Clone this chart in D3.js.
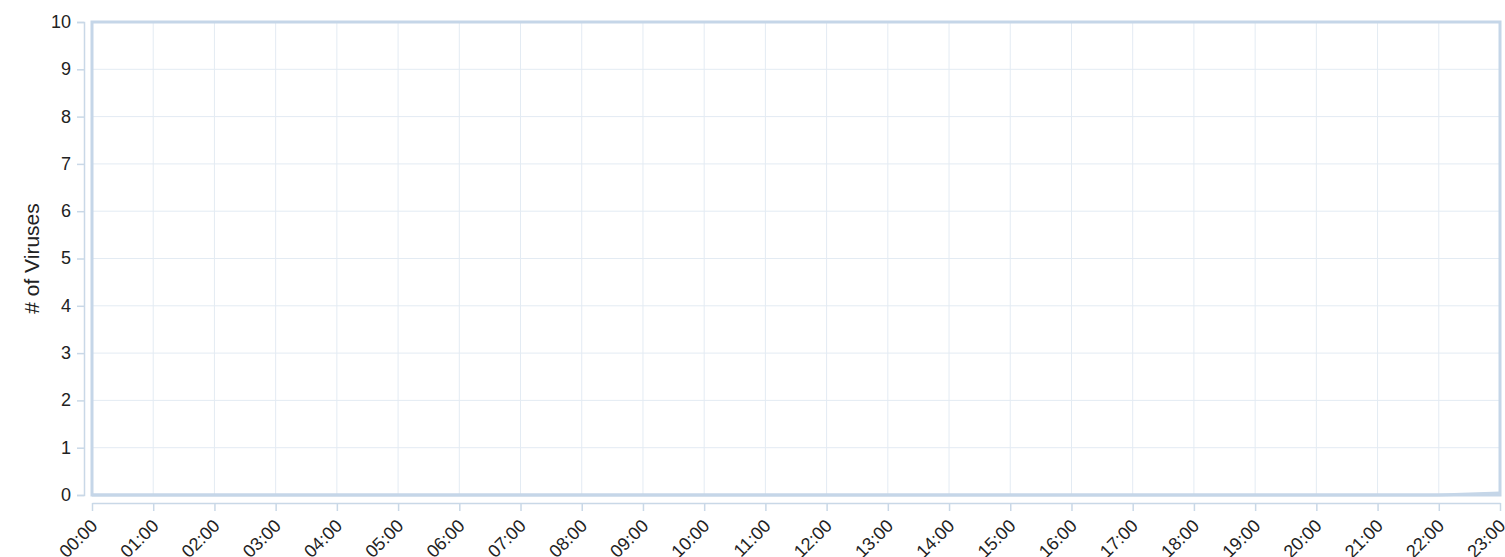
<!DOCTYPE html>
<html>
<head>
<meta charset="utf-8">
<script src="https://cdn.jsdelivr.net/npm/d3@7"></script>
<style>
  body { margin: 0; background: #fff; }
  text { font-family: "Liberation Sans", Arial, sans-serif; }
</style>
</head>
<body>
<script>
var hours = ['00:00','01:00','02:00','03:00','04:00','05:00','06:00','07:00','08:00','09:00','10:00','11:00',
             '12:00','13:00','14:00','15:00','16:00','17:00','18:00','19:00','20:00','21:00','22:00','23:00'];
var viruses = [0,0,0,0,0,0,0,0,0,0,0,0,0,0,0,0,0,0,0,0,0,0,0,0.04];
var yTicks = [0,1,2,3,4,5,6,7,8,9,10];

var W = 1505, H = 557;
var plotL = 92, plotR = 1500, plotT = 22, plotB = 495;

var svg = d3.select('body').append('svg').attr('width', W).attr('height', H);

var x = d3.scalePoint().domain(hours).range([plotL, plotR]);
var y = d3.scaleLinear().domain([0, 10]).range([plotB, plotT]);

// grid
svg.append('g').selectAll('line')
  .data(yTicks).enter().append('line')
    .attr('x1', plotL).attr('x2', plotR)
    .attr('y1', d => y(d)).attr('y2', d => y(d))
    .attr('stroke', '#e3ebf3').attr('stroke-width', 1);
svg.append('g').selectAll('line')
  .data(hours).enter().append('line')
    .attr('y1', plotT).attr('y2', plotB)
    .attr('x1', d => x(d)).attr('x2', d => x(d))
    .attr('stroke', '#e3ebf3').attr('stroke-width', 1);

// y axis (offset to the left)
var yAxis = svg.append('g').attr('transform', 'translate(84,0)')
  .call(d3.axisLeft(y).tickValues(yTicks).tickSize(7).tickPadding(6));
yAxis.attr('font-size', 18).attr('font-family', null);
yAxis.select('.domain').attr('stroke', '#c9d8e7').attr('stroke-width', 1.5);
yAxis.selectAll('.tick line').attr('stroke', '#c9d8e7').attr('stroke-width', 1.5);
yAxis.selectAll('.tick text').attr('fill', '#222').attr('dy', '0.3em');

// x axis (offset below)
var xAxis = svg.append('g').attr('transform', 'translate(0,503)')
  .call(d3.axisBottom(x).tickSize(8).tickSizeOuter(0));
xAxis.attr('font-size', 18).attr('font-family', null);
xAxis.select('.domain').attr('stroke', '#c9d8e7').attr('stroke-width', 1.5);
xAxis.selectAll('.tick text')
  .attr('fill', '#222')
  .attr('text-anchor', 'end')
  .attr('dy', null).attr('y', 0)
  .attr('transform', 'translate(6,24) rotate(-45)');
xAxis.selectAll('.tick line').attr('stroke', '#c9d8e7').attr('stroke-width', 1.5);

// plot frame
svg.append('rect')
  .attr('x', plotL).attr('y', plotT)
  .attr('width', plotR - plotL).attr('height', plotB - plotT)
  .attr('fill', 'none').attr('stroke', '#c5d6e8').attr('stroke-width', 3);

// series
var line = d3.line().x((d, i) => x(hours[i])).y(d => y(d));
svg.append('path')
  .attr('d', line(viruses))
  .attr('fill', 'none').attr('stroke', '#c5d6e8').attr('stroke-width', 3);

// y title
svg.append('text')
  .attr('transform', 'translate(39,' + ((plotT + plotB) / 2) + ') rotate(-90)')
  .attr('text-anchor', 'middle')
  .attr('font-size', 21).attr('fill', '#222')
  .text('# of Viruses');
</script>
</body>
</html>
